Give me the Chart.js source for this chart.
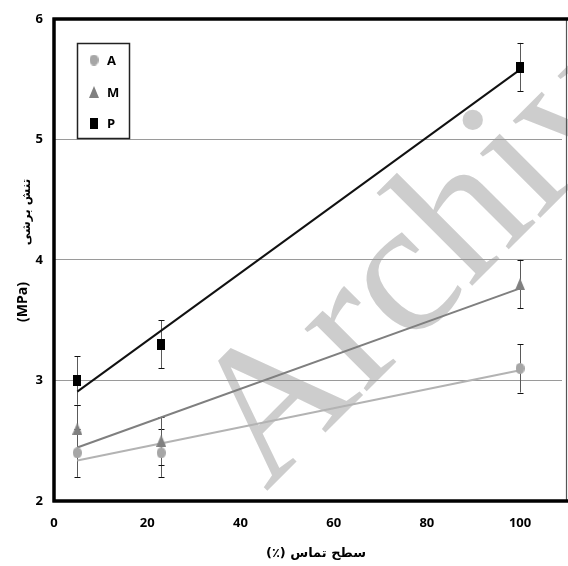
<!DOCTYPE html>
<html>
<head>
<meta charset="utf-8">
<script src="https://cdn.jsdelivr.net/npm/chart.js@4.4.1/dist/chart.umd.min.js"></script>
<style>
  html, body { margin: 0; padding: 0; background: #fff; }
</style>
</head>
<body>
<canvas id="chart" width="568" height="566"></canvas>
<script>
// contact surface (%) and shear stress (MPa)
var contact = [5, 23, 100];
var shearA = [2.4, 2.4, 3.1];
var shearM = [2.6, 2.5, 3.8];
var shearP = [3.0, 3.3, 5.6];
var errA = [0.2, 0.2, 0.2];
var errM = [0.2, 0.2, 0.2];
var errP = [0.2, 0.2, 0.2];
var seriesNames = ['A', 'M', 'P'];
var xTicks = [0, 20, 40, 60, 80, 100];
var yTicks = [2, 3, 4, 5, 6];
var xTitle = 'سطح تماس (٪)';
var yTitleFa = 'تنش برشی';
var yTitleUnit = '(MPa)';

var colA = '#a6a6a6', colM = '#808080', colP = '#000000';

function points(xs, ys) {
  return xs.map(function (x, i) { return { x: x, y: ys[i] }; });
}

// least squares trend line, like the spreadsheet trendline
function trend(xs, ys) {
  var n = xs.length, mx = 0, my = 0, sxx = 0, sxy = 0;
  for (var i = 0; i < n; i++) { mx += xs[i] / n; my += ys[i] / n; }
  for (var j = 0; j < n; j++) {
    sxx += (xs[j] - mx) * (xs[j] - mx);
    sxy += (xs[j] - mx) * (ys[j] - my);
  }
  var b = sxy / sxx, a = my - b * mx;
  var x0 = xs[0], x1 = xs[n - 1];
  return [{ x: x0, y: a + b * x0 }, { x: x1, y: a + b * x1 }];
}

function marker(kind, w, h, color) {
  var c = document.createElement('canvas');
  c.width = w; c.height = h;
  var g = c.getContext('2d');
  g.fillStyle = color;
  g.beginPath();
  if (kind === 'circle') {
    g.ellipse(w / 2, h / 2, w / 2, h / 2, 0, 0, Math.PI * 2);
  } else if (kind === 'triangle') {
    g.moveTo(w / 2, 0); g.lineTo(w, h); g.lineTo(0, h); g.closePath();
  } else {
    g.rect(0, 0, w, h);
  }
  g.fill();
  return c;
}

var mkA = marker('circle', 9, 11, colA);
var mkM = marker('triangle', 10, 12, colM);
var mkP = marker('rect', 8, 11, colP);

var errorSets = [
  { xs: contact, ys: shearA, err: errA },
  { xs: contact, ys: shearM, err: errM },
  { xs: contact, ys: shearP, err: errP }
];

var watermark = {
  id: 'watermark',
  beforeDatasetsDraw: function (chart) {
    var ctx = chart.ctx;
    ctx.save();
    ctx.translate(266, 492);
    ctx.rotate(-45 * Math.PI / 180);
    ctx.font = '192px "Liberation Serif"';
    ctx.fillStyle = 'rgba(150,150,150,0.48)';
    ctx.textBaseline = 'alphabetic';
    ctx.fillText('Archive', 0, 0);
    ctx.restore();
  }
};

var errorBars = {
  id: 'errorBars',
  beforeDatasetsDraw: function (chart) {
    var ctx = chart.ctx, xs = chart.scales.x, ys = chart.scales.y;
    ctx.save();
    ctx.lineWidth = 1;
    errorSets.forEach(function (s) {
      s.xs.forEach(function (xv, i) {
        var px = Math.round(xs.getPixelForValue(xv)) + 0.5;
        var top = ys.getPixelForValue(s.ys[i] + s.err[i]);
        var bot = ys.getPixelForValue(s.ys[i] - s.err[i]);
        ctx.strokeStyle = '#5a5a5a';
        ctx.beginPath(); ctx.moveTo(px, top); ctx.lineTo(px, bot); ctx.stroke();
        ctx.strokeStyle = '#111';
        ctx.beginPath();
        ctx.moveTo(px - 3, Math.round(top) + 0.5); ctx.lineTo(px + 3, Math.round(top) + 0.5);
        ctx.moveTo(px - 3, Math.round(bot) + 0.5); ctx.lineTo(px + 3, Math.round(bot) + 0.5);
        ctx.stroke();
      });
    });
    ctx.restore();
  }
};

var frame = {
  id: 'frame',
  afterDraw: function (chart) {
    var ctx = chart.ctx;
    ctx.save();
    // right border thin
    ctx.strokeStyle = '#555';
    ctx.lineWidth = 1.2;
    ctx.beginPath(); ctx.moveTo(566.5, 19); ctx.lineTo(566.5, 501); ctx.stroke();
    // left, bottom, top thick
    ctx.strokeStyle = '#000';
    ctx.lineWidth = 3.5;
    ctx.beginPath();
    ctx.moveTo(54, 17.5); ctx.lineTo(54, 502.5);
    ctx.moveTo(52.5, 501); ctx.lineTo(568, 501);
    ctx.moveTo(52.5, 19); ctx.lineTo(568, 19);
    ctx.stroke();

    // legend box
    ctx.lineWidth = 1.5;
    ctx.strokeStyle = '#222';
    ctx.strokeRect(77.5, 43.5, 52, 95);
    var mks = [mkA, mkM, mkP];
    var rows = [60, 92, 123];
    ctx.font = 'bold 13px "Open Sans"';
    ctx.fillStyle = '#000';
    ctx.textBaseline = 'middle';
    ctx.textAlign = 'left';
    seriesNames.forEach(function (name, i) {
      var m = mks[i];
      ctx.drawImage(m, 94 - m.width / 2, rows[i] - m.height / 2);
      ctx.fillText(name, 107, rows[i] + 1);
    });

    // axis titles
    ctx.textAlign = 'center';
    ctx.font = 'bold 13px "DejaVu Sans"';
    ctx.direction = 'rtl';
    ctx.fillText(xTitle, 316, 554);
    ctx.direction = 'ltr';

    ctx.save();
    ctx.translate(23, 302);
    ctx.rotate(-Math.PI / 2);
    ctx.font = 'bold 14px "Open Sans"';
    ctx.fillText(yTitleUnit, 0, 0);
    ctx.restore();

    ctx.save();
    ctx.translate(27, 212);
    ctx.rotate(-Math.PI / 2);
    ctx.font = 'bold 12px "DejaVu Sans"';
    ctx.direction = 'rtl';
    ctx.fillText(yTitleFa, 0, 0);
    ctx.restore();

    ctx.restore();
  }
};

var ctx = document.getElementById('chart').getContext('2d');
new Chart(ctx, {
  type: 'scatter',
  data: {
    datasets: [
      { label: 'A', data: points(contact, shearA), pointStyle: mkA, pointRadius: 5, showLine: false },
      { label: 'M', data: points(contact, shearM), pointStyle: mkM, pointRadius: 5, showLine: false },
      { label: 'P', data: points(contact, shearP), pointStyle: mkP, pointRadius: 5, showLine: false },
      { label: 'A trend', data: trend(contact, shearA), showLine: true, borderColor: '#b3b3b3', borderWidth: 2, pointRadius: 0 },
      { label: 'M trend', data: trend(contact, shearM), showLine: true, borderColor: '#7f7f7f', borderWidth: 2, pointRadius: 0 },
      { label: 'P trend', data: trend(contact, shearP), showLine: true, borderColor: '#111', borderWidth: 2, pointRadius: 0 }
    ]
  },
  options: {
    responsive: false,
    animation: false,
    devicePixelRatio: 1,
    layout: { padding: { top: 18, right: 2, left: 0, bottom: 0 } },
    plugins: { legend: { display: false }, tooltip: { enabled: false } },
    scales: {
      x: {
        type: 'linear',
        min: 0, max: 109,
        afterBuildTicks: function (s) { s.ticks = xTicks.map(function (v) { return { value: v }; }); },
        afterFit: function (s) { s.height = 65; },
        grid: { display: false, drawTicks: false },
        border: { display: false },
        ticks: { padding: 14, color: '#000', font: { family: 'Open Sans', weight: 'bold', size: 13 } }
      },
      y: {
        min: 2, max: 6,
        afterBuildTicks: function (s) { s.ticks = yTicks.map(function (v) { return { value: v }; }); },
        afterFit: function (s) { s.width = 54; },
        grid: {
          drawTicks: false,
          color: function (c) { return (c.tick && c.tick.value > 2 && c.tick.value < 6) ? '#9a9a9a' : 'rgba(0,0,0,0)'; },
          lineWidth: 1
        },
        border: { display: false },
        ticks: { padding: 11, color: '#000', font: { family: 'Open Sans', weight: 'bold', size: 13 } }
      }
    }
  },
  plugins: [watermark, errorBars, frame]
});
</script>
</body>
</html>
